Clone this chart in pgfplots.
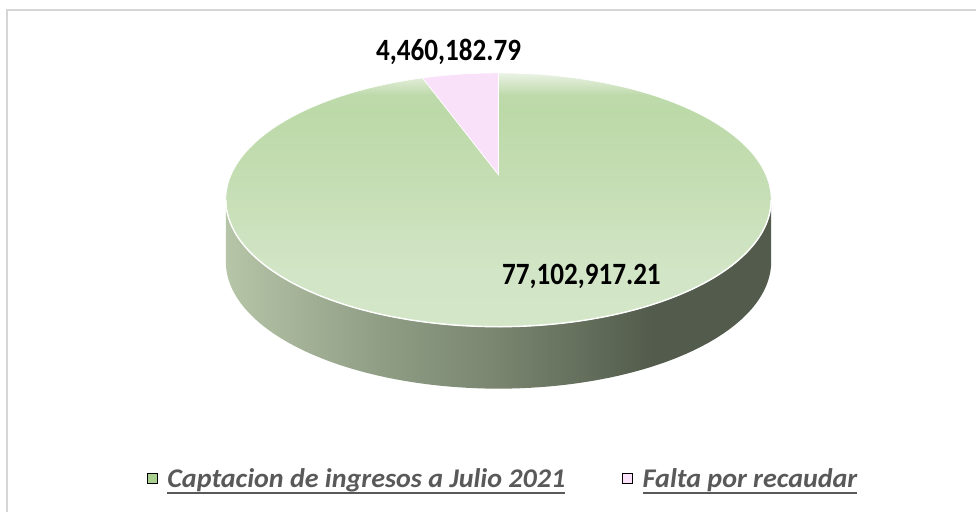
\documentclass[border=0pt]{standalone}
\usepackage{pgfplots}
\pgfplotsset{compat=1.18}
\usepackage{fontspec}
\setmainfont{Carlito}
\newfontfamily\cfont[FakeStretch=0.875]{Carlito}
\newfontfamily\lfont[FakeStretch=1.04]{Carlito}
\definecolor{legG}{HTML}{A9D08E}
\definecolor{pinkW}{HTML}{FAE1FA}
\definecolor{legP}{HTML}{FBE3FB}
\definecolor{txtG}{HTML}{595959}
\definecolor{frameC}{HTML}{D6D6D6}
\definecolor{sA}{HTML}{B6C4A7}
\definecolor{sB}{HTML}{909E86}
\definecolor{sC}{HTML}{79856F}
\definecolor{sD}{HTML}{535C4C}
\definecolor{tA}{HTML}{D3E6C8}
\definecolor{tB}{HTML}{D2E5C6}
\definecolor{tC}{HTML}{C6DEB5}
\definecolor{tD}{HTML}{BCD9A8}
\definecolor{tE}{HTML}{BEDAAB}
\definecolor{tF}{HTML}{EAF2E5}
\pgfdeclarehorizontalshading{sideshade}{100bp}{color(0bp)=(sA); color(25bp)=(sA); color(39bp)=(sB); color(50bp)=(sC); color(64bp)=(sD); color(75bp)=(sD); color(100bp)=(sD)}
\pgfdeclareverticalshading{topshade}{100bp}{color(0bp)=(tA); color(25bp)=(tA); color(36.4bp)=(tB); color(52bp)=(tC); color(67.7bp)=(tD); color(70.7bp)=(tE); color(75bp)=(tF); color(100bp)=(tF)}
\DeclareRobustCommand\ul[1]{\setbox0=\hbox{#1}\rlap{\rule[-6.5pt]{\wd0}{2pt}}\box0}
% data
\def\valA{77102917.21}
\def\valB{4460182.79}
\edef\angB{\fpeval{360*\valB/(\valA+\valB)}}
\edef\angA{\fpeval{360-\angB}}
\begin{document}
\begin{tikzpicture}
\begin{axis}[
  width=977pt, height=513pt, scale only axis,
  xmin=0, xmax=977, ymin=0, ymax=513, y dir=reverse,
  hide axis, clip=false,
  declare function={
    PX(\t)=499+267.6*sin(\t)/(1+0.197*cos(\t));
    PY(\t)=175-122.1*cos(\t)/(1+0.197*cos(\t));
    ang(\s)=(\s<=1.005)*(101.4+157.2*\s)+(\s>1.005)*(258.6-157.2*(\s-1.01)/0.99);
    dep(\s)=(\s>1.005)*62;
  },
  legend image code/.code={\fill[#1] (0pt,-5pt) rectangle (10pt,5pt);},
  legend style={at={(axis cs:147,479)}, anchor=west, draw=none, fill=none,
    inner sep=0pt, column sep=10pt,
    nodes={inner sep=0pt, text=txtG, font=\fontsize{27}{31}\selectfont\lfont\bfseries\itshape},
    /tikz/every even column/.append style={column sep=57pt}},
  legend columns=2,
]
\path (axis cs:0,0) rectangle (axis cs:977,513);
% frame
\draw[frameC, line width=2pt] (axis cs:7,513) -- (axis cs:7,10.5) -- (axis cs:977,10.5);
% side wall
\addplot[forget plot, draw=none, shading=sideshade, domain=0:2, samples=201]
  ({PX(ang(x))},{PY(ang(x))+dep(x)}) -- cycle;
% green top
\addplot[forget plot, draw=white, line width=0.6pt, shading=topshade, domain=0:\angA, samples=240]
  ({PX(x)},{PY(x)}) -- (axis cs:499,175) -- cycle;
% pink wedge
\addplot[forget plot, draw=white, line width=0.6pt, fill=pinkW, domain=-\angB:0, samples=30]
  ({PX(x)},{PY(x)}) -- (axis cs:499,175) -- cycle;
% front rim highlight
\addplot[forget plot, white, line width=1.4pt, domain=101.4:258.6, samples=120]
  ({PX(x)},{PY(x)});
% labels
\node[font=\fontsize{31}{35}\selectfont\cfont\bfseries] at (axis cs:449,52) {4,460,182.79};
\node[font=\fontsize{31}{35}\selectfont\cfont\bfseries] at (axis cs:582,277) {77,102,917.21};
% legend
\addlegendimage{fill=legG}
\addlegendentry{\ul{Captacion de ingresos a Julio 2021}}
\addlegendimage{fill=legP}
\addlegendentry{\ul{Falta por recaudar}}
\end{axis}
\end{tikzpicture}
\end{document}
